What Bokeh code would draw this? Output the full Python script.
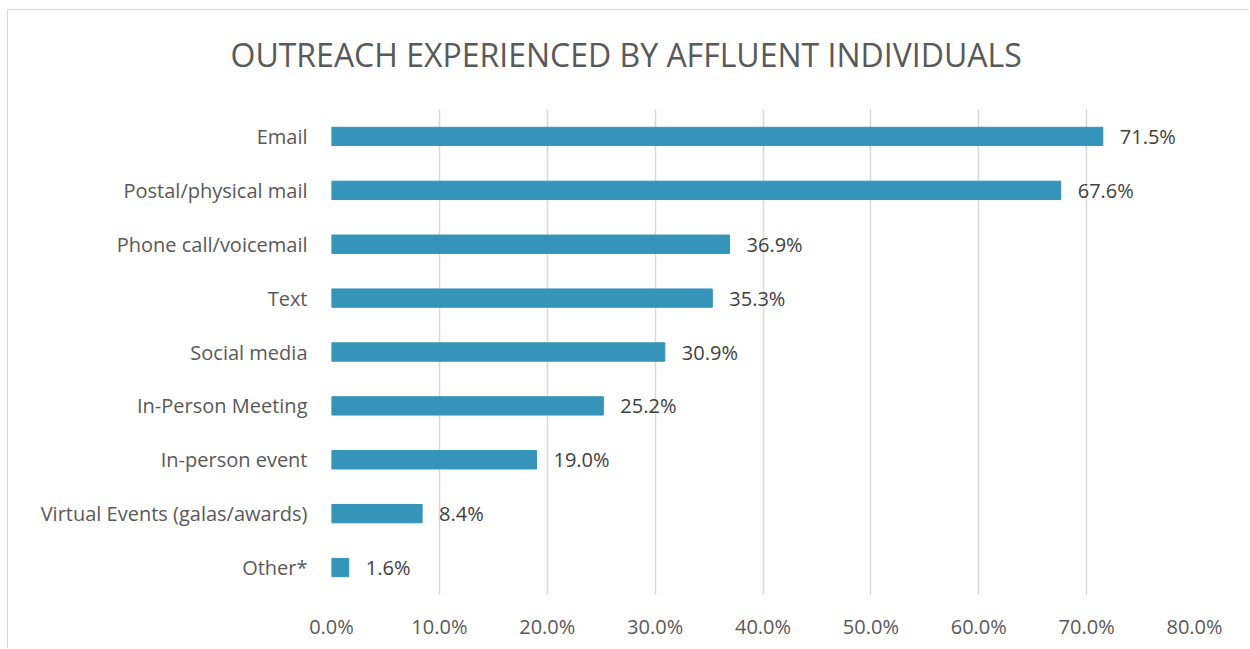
from bokeh.plotting import figure
from bokeh.models import Range1d, FactorRange, FixedTicker, NumeralTickFormatter, Title, ColumnDataSource
from bokeh.core.properties import value
from bokeh.embed import file_html
from bokeh.resources import INLINE

categories = ["Email", "Postal/physical mail", "Phone call/voicemail", "Text", "Social media",
              "In-Person Meeting", "In-person event", "Virtual Events (galas/awards)", "Other*"]
values_pct = [71.5, 67.6, 36.9, 35.3, 30.9, 25.2, 19.0, 8.4, 1.6]
x_ticks = [0.0, 0.1, 0.2, 0.3, 0.4, 0.5, 0.6, 0.7, 0.8]
title_text = "OUTREACH EXPERIENCED BY AFFLUENT INDIVIDUALS"

FONT = "Open Sans"
BAR = "#3494BA"
GRID = "#d9d9d9"
TXT = "#404040"
AX = "#595959"

src = ColumnDataSource(dict(
    cat=categories,
    val=[v / 100 for v in values_pct],
    lab=[f"{v:.1f}%" for v in values_pct],
))

p = figure(width=1242, height=639, output_backend="svg", toolbar_location=None,
           x_range=Range1d(0, 0.8), y_range=FactorRange(factors=list(reversed(categories))),
           min_border_left=323, min_border_right=56, min_border_top=0, min_border_bottom=55)
p.styles = {"margin-left": "7px", "margin-top": "9px",
            "border-left": "1px solid #d9d9d9", "border-top": "1px solid #d9d9d9"}
p.outline_line_color = None
p.background_fill_color = "white"
p.border_fill_color = "white"

p.title.text = title_text
p.title.align = "left"
p.title.offset = -101
p.title.standoff = 40
p.title.text_font = FONT
p.title.text_font_size = "32px"
p.title.text_font_style = "normal"
p.title.text_color = AX

spacer = Title(text=" ", standoff=10, text_font_size="2px")
p.add_layout(spacer, "above")

p.hbar(y="cat", right="val", left=0, height=0.34, source=src, fill_color=BAR, line_color=BAR)
p.text(x="val", y="cat", text="lab", source=src, x_offset=17, text_baseline="middle",
       text_font=value(FONT), text_font_size="20px", text_color=TXT)

p.xaxis.ticker = FixedTicker(ticks=x_ticks)
p.xaxis.formatter = NumeralTickFormatter(format="0.0%")
p.xaxis.axis_line_color = None
p.xaxis.major_tick_line_color = None
p.xaxis.minor_tick_line_color = None
p.xaxis.major_label_standoff = 12
p.xaxis.major_label_text_font = FONT
p.xaxis.major_label_text_font_size = "20px"
p.xaxis.major_label_text_color = AX

p.yaxis.axis_line_color = None
p.yaxis.major_tick_line_color = None
p.yaxis.minor_tick_line_color = None
p.yaxis.major_label_standoff = 18
p.yaxis.major_label_text_font = FONT
p.yaxis.major_label_text_font_size = "20px"
p.yaxis.major_label_text_color = AX

p.xgrid.grid_line_color = GRID
p.xgrid.grid_line_width = 1.5
p.ygrid.grid_line_color = None

open("out.html", "w").write(file_html(p, INLINE))
